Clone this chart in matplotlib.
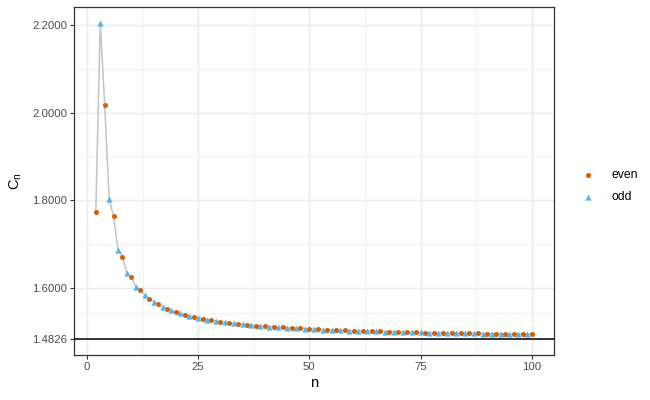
import numpy as np
import matplotlib
matplotlib.use("Agg")
import matplotlib.pyplot as plt

# sample sizes and constants
n_vals = list(range(2, 101))
c_vals = [
    1.7725, 2.2050, 2.0167, 1.8030, 1.7630, 1.6870, 1.6710, 1.6330, 1.6240, 1.6020,
    1.5955, 1.5833, 1.5750, 1.5681, 1.5619, 1.5569, 1.5523, 1.5483, 1.5447, 1.5415,
    1.5385, 1.5359, 1.5335, 1.5313, 1.5293, 1.5274, 1.5257, 1.5241, 1.5226, 1.5212,
    1.5200, 1.5188, 1.5176, 1.5166, 1.5156, 1.5147, 1.5138, 1.5129, 1.5122, 1.5114,
    1.5107, 1.5100, 1.5094, 1.5087, 1.5082, 1.5076, 1.5070, 1.5065, 1.5060, 1.5056,
    1.5051, 1.5046, 1.5042, 1.5038, 1.5034, 1.5031, 1.5027, 1.5024, 1.5020, 1.5017,
    1.5014, 1.5011, 1.5008, 1.5005, 1.5002, 1.4999, 1.4997, 1.4994, 1.4992, 1.4989,
    1.4987, 1.4985, 1.4982, 1.4980, 1.4978, 1.4976, 1.4974, 1.4972, 1.4970, 1.4969,
    1.4967, 1.4965, 1.4963, 1.4962, 1.4960, 1.4958, 1.4957, 1.4955, 1.4954, 1.4952,
    1.4951, 1.4950, 1.4948, 1.4947, 1.4946, 1.4944, 1.4943, 1.4942, 1.4941,
]
limit_val = 1.4826
y_ticks = [1.4826, 1.6, 1.8, 2.0, 2.2]
y_labels = ["1.4826", "1.6000", "1.8000", "2.0000", "2.2000"]
x_ticks = [0, 25, 50, 75, 100]

n = np.array(n_vals)
c = np.array(c_vals)
even = n % 2 == 0
odd = ~even

plt.rcParams["font.family"] = ["Liberation Sans", "DejaVu Sans"]
plt.rcParams["mathtext.default"] = "regular"

fig = plt.figure(figsize=(6.5, 4), dpi=100)
ax = fig.add_axes([74 / 650, 45 / 400, 479.5 / 650, 348 / 400])

ax.plot(n, c, color="#C4C4C4", lw=1.1, zorder=2)
ax.axhline(limit_val, color="black", lw=1.1, zorder=3)
ax.scatter(n[even], c[even], s=13, marker="o", color="#D55E00", lw=0, zorder=4, label="even")
ax.scatter(n[odd], c[odd], s=20, marker="^", color="#56B4E9", lw=0, zorder=4, label="odd")

xr = n.max() - n.min()
ax.set_xlim(n.min() - 0.05 * xr, n.max() + 0.05 * xr)
yr = c.max() - limit_val
ax.set_ylim(limit_val - 0.05 * yr, c.max() + 0.05 * yr)

ax.set_xticks(x_ticks)
ax.set_xticks([12.5, 37.5, 62.5, 87.5], minor=True)
ax.set_yticks(y_ticks)
ax.set_yticklabels(y_labels)
ax.set_yticks([(1.4826 + 1.6) / 2, 1.7, 1.9, 2.1], minor=True)

ax.grid(which="major", color="#EBEBEB", lw=1.0, zorder=0)
ax.grid(which="minor", color="#EBEBEB", lw=0.5, zorder=0)
ax.set_axisbelow(True)
ax.tick_params(which="major", length=3, width=0.8, color="#333333",
               labelsize=8.2, labelcolor="#4D4D4D", pad=2)
ax.tick_params(which="minor", length=0)
for sp in ax.spines.values():
    sp.set_color("#333333")
    sp.set_linewidth(0.9)

ax.set_xlabel("n", fontsize=10.5, labelpad=3)
ax.set_ylabel("$C_n$", fontsize=10.5, labelpad=6)

leg = ax.legend(loc="center left", bbox_to_anchor=(565 / 650, 214 / 400),
                bbox_transform=fig.transFigure, frameon=False, fontsize=8.8,
                handletextpad=0.9, labelspacing=0.8, markerscale=1.0)

fig.savefig("out.png", dpi=100)
